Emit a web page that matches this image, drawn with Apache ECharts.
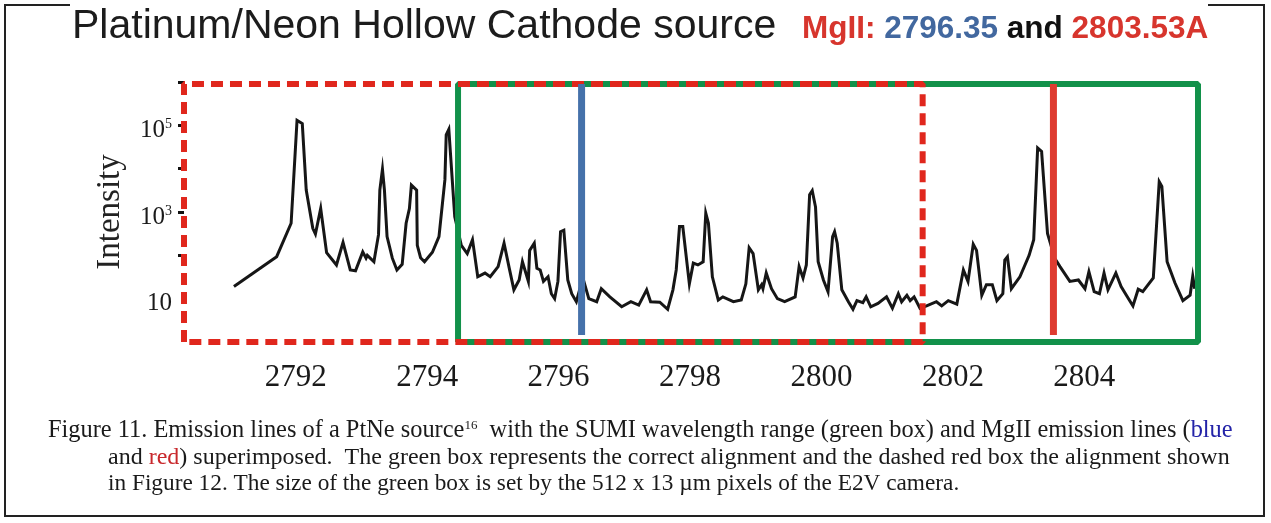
<!DOCTYPE html>
<html>
<head>
<meta charset="utf-8">
<title>Platinum/Neon Hollow Cathode source</title>
<script src="https://cdn.jsdelivr.net/npm/echarts@6/dist/echarts.min.js"></script>
<style>
html, body { margin: 0; padding: 0; background: #fff; }
#main { width: 1271px; height: 523px; }
</style>
</head>
<body>
<div id="main"></div>
<script>
// spectrum (wavelength in Angstrom, intensity in counts)
const wavelength = [
  2791.06, 2791.71, 2791.93, 2792.02, 2792.10, 2792.16, 2792.26, 2792.30, 2792.38, 2792.47,
  2792.62, 2792.72, 2792.83, 2792.91, 2793.02, 2793.07, 2793.09, 2793.19, 2793.26, 2793.28,
  2793.32, 2793.35, 2793.39, 2793.47, 2793.54, 2793.62, 2793.68, 2793.73, 2793.76, 2793.84,
  2793.85, 2793.90, 2793.96, 2794.08, 2794.18, 2794.27, 2794.29, 2794.33, 2794.42, 2794.52,
  2794.61, 2794.69, 2794.77, 2794.88, 2794.96, 2795.08, 2795.17, 2795.25, 2795.32, 2795.40,
  2795.45, 2795.54, 2795.56, 2795.63, 2795.67, 2795.72, 2795.77, 2795.84, 2795.89, 2795.94,
  2795.99, 2796.03, 2796.08, 2796.14, 2796.20, 2796.27, 2796.37, 2796.46, 2796.58, 2796.65,
  2796.78, 2796.96, 2797.10, 2797.22, 2797.34, 2797.40, 2797.54, 2797.66, 2797.74, 2797.79,
  2797.84, 2797.89, 2797.99, 2798.05, 2798.12, 2798.20, 2798.24, 2798.28, 2798.34, 2798.43,
  2798.50, 2798.66, 2798.78, 2798.85, 2798.90, 2798.96, 2799.04, 2799.09, 2799.11, 2799.16,
  2799.24, 2799.33, 2799.44, 2799.60, 2799.66, 2799.72, 2799.77, 2799.82, 2799.86, 2799.91,
  2799.95, 2800.03, 2800.10, 2800.17, 2800.20, 2800.24, 2800.31, 2800.41, 2800.48, 2800.54,
  2800.63, 2800.68, 2800.75, 2800.86, 2800.99, 2801.08, 2801.17, 2801.22, 2801.30, 2801.35,
  2801.41, 2801.50, 2801.60, 2801.75, 2801.83, 2801.93, 2802.06, 2802.16, 2802.23, 2802.31,
  2802.36, 2802.44, 2802.51, 2802.60, 2802.67, 2802.76, 2802.79, 2802.83, 2802.89, 2803.02,
  2803.16, 2803.23, 2803.29, 2803.35, 2803.44, 2803.55, 2803.63, 2803.78, 2803.91, 2804.01,
  2804.07, 2804.15, 2804.23, 2804.30, 2804.36, 2804.48, 2804.56, 2804.64, 2804.74, 2804.82,
  2804.89, 2805.05, 2805.14, 2805.18, 2805.26, 2805.38, 2805.50, 2805.61, 2805.65, 2805.68
];
const intensity = [
  19, 93, 550, 130000, 110000, 3200, 420, 310, 1200, 115,
  60, 200, 46, 44, 120, 86, 100, 71, 300, 3200,
  9700, 3200, 270, 86, 46, 62, 550, 1200, 4200, 3200,
  170, 88, 71, 118, 270, 5500, 60000, 81000, 780, 170,
  110, 230, 32, 39, 32, 55, 190, 50, 16, 27,
  71, 25, 130, 190, 50, 46, 25, 32, 13, 10,
  25, 350, 380, 27, 13, 8.5, 30, 10, 8.5, 17,
  11, 6.5, 8.5, 7.1, 16, 8.5, 8.3, 5.7, 16, 46,
  460, 460, 22, 66, 60, 71, 940, 550, 32, 9.3,
  11, 8.5, 9.3, 22, 150, 110, 16, 21, 17, 39,
  17, 10, 8.5, 11, 55, 30, 60, 2500, 3100, 1300,
  71, 27, 14.5, 270, 350, 190, 16, 8.5, 5.7, 9,
  8.1, 11, 6.5, 7.8, 11, 6, 13, 8.5, 12, 9,
  11, 6, 6.8, 8.5, 6.8, 9, 7.5, 46, 25, 180,
  130, 12, 21, 21, 9, 13, 78, 93, 17, 32,
  100, 230, 30000, 25000, 320, 86, 55, 25, 27, 17,
  42, 14.5, 13, 39, 16, 39, 19, 12, 6.8, 16.5,
  14.5, 30, 5000, 3900, 71, 23, 9, 12, 33, 17
];

// SUMI wavelength range (green) and the alignment of Figure 12 (dashed red)
const sumiRange = [2794.47, 2805.73];
const fig12Range = [2790.30, 2801.54];
const boxIntensity = [1, 9e5];

// MgII emission lines
const mgBlue = 2796.35;
const mgRed = 2803.53;
const mgIntensity = [1.45, 9e5];

const xTicks = [2792, 2794, 2796, 2798, 2800, 2802, 2804];
const yTicks = [100, 1000, 10000, 100000, 1000000];
const yLabels = [10, 1000, 100000];

function boxPath(range, ys) {
  return [
    [range[0], ys[0]], [range[0], ys[1]], [range[1], ys[1]],
    [range[1], ys[0]], [range[0], ys[0]]
  ];
}

const serif = 'Liberation Serif, Times New Roman, serif';
const sans = 'Liberation Sans, Arial, sans-serif';

let myChart = echarts.init(document.getElementById('main'));

myChart.setOption({
  animation: false,
  backgroundColor: '#fff',
  title: [
    {
      text: 'Platinum/Neon Hollow Cathode source',
      left: 72, top: 6, padding: 0,
      textStyle: { fontFamily: sans, fontWeight: 'normal', fontSize: 41, color: '#1c1c1c' }
    },
    {
      text: '{r|MgII:} {b|2796.35} {k|and} {r|2803.53A}',
      left: 802, top: 13, padding: 0,
      textStyle: {
        fontFamily: sans, fontWeight: 'bold', fontSize: 31.5, color: '#111',
        rich: {
          r: { fontFamily: sans, fontWeight: 'bold', fontSize: 31.5, color: '#d7352d' },
          b: { fontFamily: sans, fontWeight: 'bold', fontSize: 31.5, color: '#42689f' },
          k: { fontFamily: sans, fontWeight: 'bold', fontSize: 31.5, color: '#111' }
        }
      }
    }
  ],
  grid: { left: 184, right: 73, top: 82, bottom: 181 },
  xAxis: {
    type: 'value',
    min: fig12Range[0],
    max: sumiRange[1],
    axisLine: { show: false },
    axisTick: { show: false },
    splitLine: { show: false },
    axisLabel: {
      customValues: xTicks,
      margin: 20,
      fontFamily: serif, fontSize: 31, color: '#1a1a1a',
      formatter: function (v) { return String(v); }
    }
  },
  yAxis: {
    type: 'log',
    logBase: 10,
    min: 1,
    max: 1e6,
    name: 'Intensity',
    nameLocation: 'middle',
    nameRotate: 90,
    nameGap: 57,
    nameTextStyle: { fontFamily: serif, fontSize: 33, color: '#222' },
    axisLine: { show: false },
    splitLine: { show: false },
    axisTick: {
      customValues: yTicks,
      length: 6,
      lineStyle: { color: '#111', width: 3 }
    },
    axisLabel: {
      customValues: yLabels,
      margin: 12,
      padding: [10, 0, 0, 0],
      fontFamily: serif, fontSize: 25, color: '#1a1a1a',
      formatter: function (v) {
        const p = Math.round(Math.log10(v));
        return p === 1 ? '10' : '10{sup|' + p + '}';
      },
      rich: {
        sup: { fontFamily: serif, fontSize: 14, color: '#1a1a1a', verticalAlign: 'top', padding: [0, 0, 12, 0] }
      }
    }
  },
  series: [
    {
      name: 'PtNe',
      type: 'line',
      symbol: 'none',
      z: 2,
      lineStyle: { color: '#161616', width: 3, join: 'miter' },
      data: wavelength.map((w, i) => [w, intensity[i]])
    },
    {
      name: 'SUMI range',
      type: 'line',
      symbol: 'none',
      clip: false,
      silent: true,
      z: 3,
      lineStyle: { color: '#12914a', width: 6 },
      data: boxPath(sumiRange, boxIntensity)
    },
    {
      name: 'Figure 12 alignment',
      type: 'line',
      symbol: 'none',
      clip: false,
      silent: true,
      z: 4,
      lineStyle: { color: '#e0271d', width: 6, type: [12, 7] },
      data: boxPath(fig12Range, boxIntensity)
    },
    {
      name: 'MgII 2796.35',
      type: 'line',
      symbol: 'none',
      clip: false,
      silent: true,
      z: 5,
      lineStyle: { color: '#4571aa', width: 7, cap: 'butt' },
      data: mgIntensity.map(v => [mgBlue, v])
    },
    {
      name: 'MgII 2803.53',
      type: 'line',
      symbol: 'none',
      clip: false,
      silent: true,
      z: 5,
      lineStyle: { color: '#de3b30', width: 7, cap: 'butt' },
      data: mgIntensity.map(v => [mgRed, v])
    }
  ],
  graphic: {
    elements: [
      // figure frame, broken by the heading
      { type: 'polyline', silent: true, shape: { points: [[70, 5], [5, 5], [5, 516], [1264, 516], [1264, 5], [1208, 5]] },
        style: { stroke: '#222', lineWidth: 2, fill: null } },
      {
        type: 'text', silent: true, x: 48, y: 431,
        style: {
          text: 'Figure 11. Emission lines of a PtNe source{sup|16}  with the SUMI wavelength range (green box) and MgII emission lines ({b|blue}',
          fontFamily: serif, fontSize: 24.4, fill: '#1a1a1a', verticalAlign: 'middle',
          rich: {
            sup: { fontFamily: serif, fontSize: 13, fill: '#1a1a1a', verticalAlign: 'top' },
            b: { fontFamily: serif, fontSize: 24.4, fill: '#2323a8' }
          }
        }
      },
      {
        type: 'text', silent: true, x: 108, y: 458,
        style: {
          text: 'and {r|red}) superimposed.  The green box represents the correct alignment and the dashed red box the alignment shown',
          fontFamily: serif, fontSize: 24, fill: '#1a1a1a', verticalAlign: 'middle',
          rich: { r: { fontFamily: serif, fontSize: 24, fill: '#c8282c' } }
        }
      },
      {
        type: 'text', silent: true, x: 108, y: 484,
        style: {
          text: 'in Figure 12. The size of the green box is set by the 512 x 13 \u00b5m pixels of the E2V camera.',
          fontFamily: serif, fontSize: 23.3, fill: '#1a1a1a', verticalAlign: 'middle'
        }
      }
    ]
  }
});

window.addEventListener('resize', function () {
  myChart.resize();
});
</script>
</body>
</html>
